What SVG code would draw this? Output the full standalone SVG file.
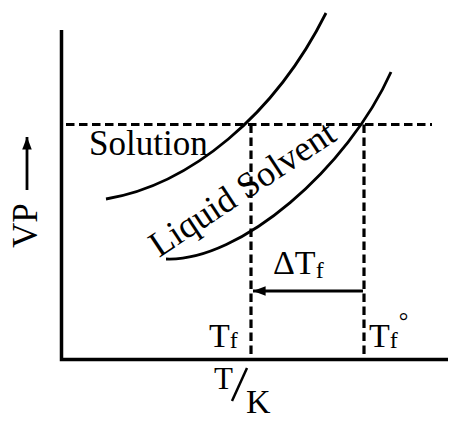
<svg xmlns="http://www.w3.org/2000/svg" width="455" height="426" viewBox="0 0 455 426">
<style>
.ax{stroke:#000;stroke-width:3.5;fill:none}
.cv{stroke:#000;stroke-width:2.8;fill:none}
.ds{stroke:#000;stroke-width:3.2;fill:none;stroke-dasharray:8.5 4.5}
.t{font-family:"Liberation Serif","Times New Roman",serif;fill:#000;font-size:34px}
.s{font-size:24px}
</style>
<defs>
<marker id="ah" viewBox="0 0 10 10" refX="10" refY="5" markerWidth="4.5" markerHeight="4.5" orient="auto" markerUnits="strokeWidth">
<path d="M0,1.2 L10,5 L0,8.8 z" fill="#000"/>
</marker>
</defs>
<rect width="455" height="426" fill="#fff"/>
<g id="axes">
<path class="ax" d="M61.5,30 V359.5 H448"/>
</g>
<g id="connectors">
<path class="ds" d="M66,124.5 H432"/>
<path class="ds" d="M251,124.5 V358"/>
<path class="ds" d="M364,124.5 V358"/>
<path class="cv" d="M363,291 H253" marker-end="url(#ah)"/>
<path class="cv" d="M27,190 V137" marker-end="url(#ah)"/>
</g>
<g id="solution-curve">
<path class="cv" d="M106,199 C190,185 275,115 326,13"/>
<text class="t" x="89" y="155" style="font-size:35px">Solution</text>
</g>
<g id="solvent-curve">
<path class="cv" d="M166,259 C240,262 348,168 391,72"/>
<text class="t" transform="translate(159,258) rotate(-33.5)" style="font-size:36px">Liquid Solvent</text>
</g>
<g id="labels">
<text class="t" transform="translate(37,248) rotate(-90)" style="font-size:35px">VP</text>
<text class="t" x="273" y="274">ΔT<tspan class="s" dy="4">f</tspan></text>
<text class="t" x="209" y="347">T<tspan class="s" dy="1">f</tspan></text>
<text class="t" x="369" y="347">T<tspan class="s" dy="1">f</tspan><tspan class="s" dx="1" dy="-19">°</tspan></text>
<text class="t" x="214" y="389" style="font-size:31px">T</text>
<path class="cv" d="M247,368 L232,401" style="stroke-width:2.5"/>
<text class="t" x="246" y="413">K</text>
</g>
</svg>
